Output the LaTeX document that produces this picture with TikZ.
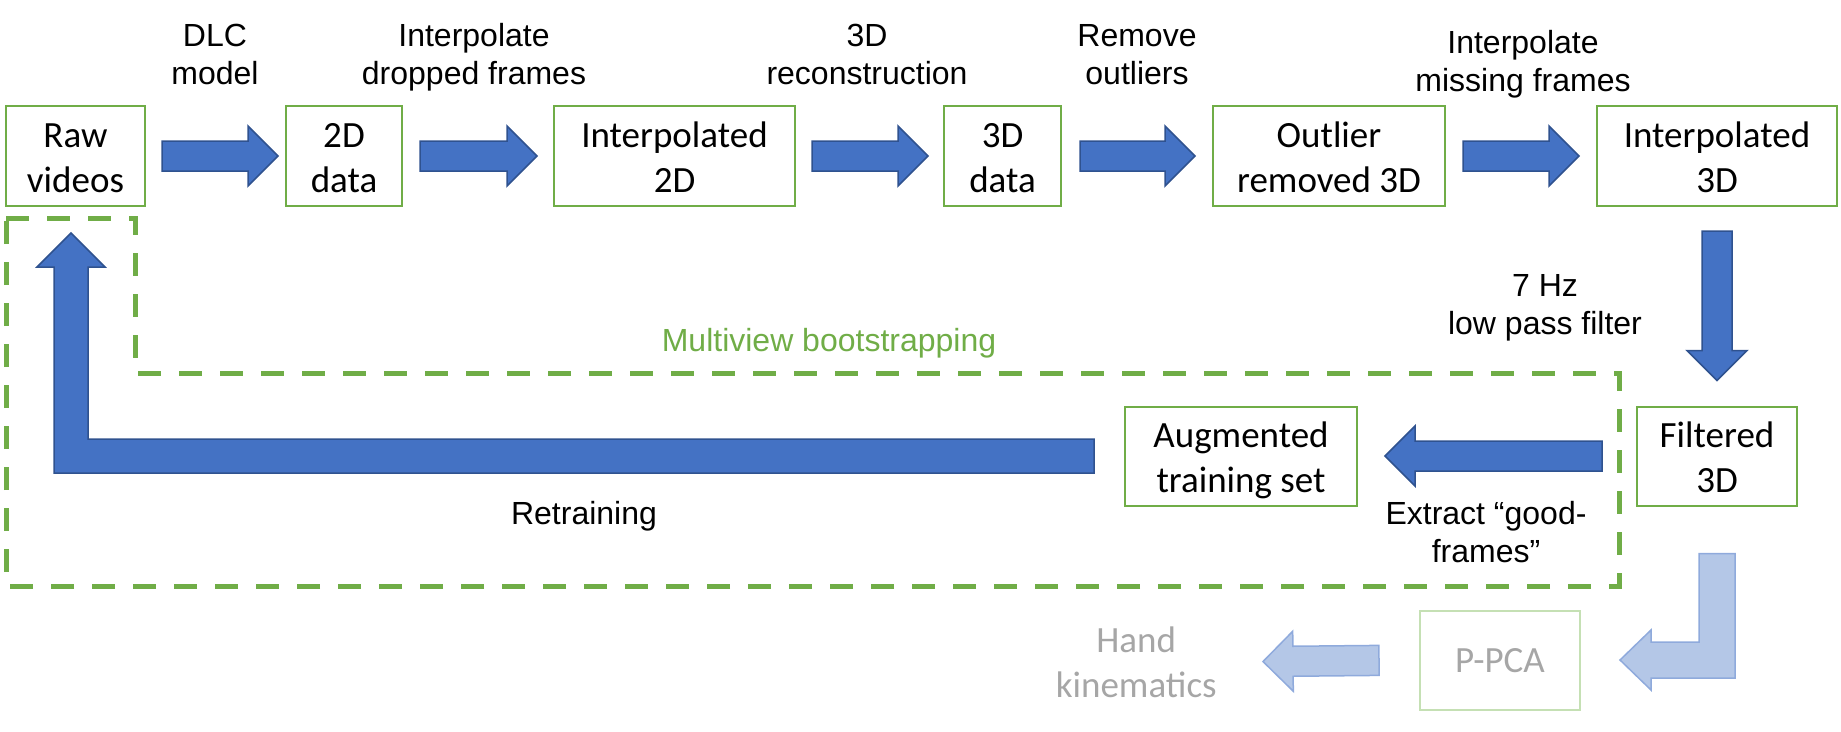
\documentclass[tikz,border=0pt]{standalone}
\usepackage{fontspec}
\setmainfont{Carlito}
\newfontfamily\arialfont{Liberation Sans}
\usetikzlibrary{calc}

\tikzset{every picture/.style={line width=0.75pt},
	stagebox/.style={draw={rgb, 255:red, 112; green, 173; blue, 71 }, line width=2pt, align=center, inner sep=0pt, text height=72pt, text depth=0pt, font=\fontsize{37}{45}\selectfont},
	fadedbox/.style={draw={rgb, 255:red, 197; green, 224; blue, 180 }, line width=2pt, align=center, inner sep=0pt, text depth=0pt, text={rgb, 255:red, 166; green, 166; blue, 166 }, font=\fontsize{37}{45}\selectfont},
	steplabel/.style={align=center, inner sep=0pt, text depth=0pt, anchor=south, font=\arialfont\fontsize{32}{38}\selectfont},
	bluearrow/.style={fill={rgb, 255:red, 68; green, 114; blue, 196 }, draw={rgb, 255:red, 47; green, 82; blue, 143 }, line width=1.5pt},
	palearrow/.style={fill={rgb, 255:red, 180; green, 199; blue, 231 }, draw={rgb, 255:red, 143; green, 170; blue, 220 }, line width=1.5pt},
	bootbox/.style={draw={rgb, 255:red, 112; green, 173; blue, 71 }, line width=5pt, dash pattern=on 23pt off 18pt}
}

% block arrow between two anchors: [style]{from}{to}{gap at from}{gap at to}
\newcommand{\blockarrow}[5][bluearrow]{%
	\coordinate (ba) at ($(#2)!#4!(#3)$);
	\coordinate (bb) at ($(#3)!#5!(#2)$);
	\coordinate (bc) at ($(bb)!30pt!(ba)$);
	\draw[#1] ($(ba)!15pt!90:(bb)$) -- ($(bc)!15pt!90:(bb)$) -- ($(bc)!30pt!90:(bb)$) -- (bb) -- ($(bc)!30pt!-90:(bb)$) -- ($(bc)!15pt!-90:(bb)$) -- ($(ba)!15pt!-90:(bb)$) -- cycle ;
}

\begin{document}
\begin{tikzpicture}[x=1pt,y=1pt,yscale=-1,xscale=1]
	\useasboundingbox (0,0) rectangle (1841,731);

	%Shape: Rectangle [top row]
	\node[stagebox, minimum width=139, minimum height=100] (raw) at (75.5,156) {Raw\\videos};
	\node[stagebox, minimum width=116, minimum height=100] (d2) at (344,156) {2D\\data};
	\node[stagebox, minimum width=241, minimum height=100] (i2) at (674.5,156) {Interpolated\\2D};
	\node[stagebox, minimum width=117, minimum height=100] (d3) at (1002.5,156) {3D\\data};
	\node[stagebox, minimum width=232, minimum height=100] (o3) at (1329,156) {Outlier\\removed 3D};
	\node[stagebox, minimum width=240, minimum height=100] (i3) at (1717,156) {Interpolated\\3D};
	%Shape: Rectangle [bottom row]
	\node[stagebox, minimum width=160, minimum height=99] (filt) at (1717,456) {Filtered\\3D};
	\node[stagebox, minimum width=232, minimum height=99] (aug) at (1241,456) {Augmented\\training set};
	\node[fadedbox, minimum width=160, minimum height=99] (ppca) at (1500,660) {P-PCA};

	%Shape: Dashed frame
	\draw[bootbox] (6,218) -- (135,218) -- (135,373) -- (1619,373) -- (1619,586) -- (6,586) -- cycle ;

	%Block arrows
	\blockarrow{raw.east}{d2.west}{16pt}{7pt}
	\blockarrow{d2.east}{i2.west}{17pt}{16pt}
	\blockarrow{i2.east}{d3.west}{16pt}{15pt}
	\blockarrow{d3.east}{o3.west}{18pt}{17pt}
	\blockarrow{o3.east}{i3.west}{17pt}{17pt}
	\blockarrow{i3.south}{filt.north}{24pt}{25pt}
	\blockarrow{filt.west}{aug.east}{34pt}{27pt}

	%Retraining arrow
	\coordinate (rtail) at ([xshift=-30pt]aug.west);
	\coordinate (rtip) at ([xshift=-4.5pt,yshift=26pt]raw.south);
	\draw[bluearrow] ($(rtail)+(0,-17)$) -| ($(rtip)+(17,34)$) -- ++(17,0) -- (rtip) -- ++(-34,34) -- ++(17,0) |- ($(rtail)+(0,17)$) -- cycle ;

	%Faded arrows
	\coordinate (ltop) at ([yshift=47pt]filt.south);
	\coordinate (ltip) at ([xshift=39pt]ppca.east);
	\draw[palearrow] ($(ltop)+(-18,0)$) |- ($(ltip)+(31,-18)$) -- ++(0,-12) -- (ltip) -- ++(31,30) -- ++(0,-12) -| ($(ltop)+(18,0)$) -- cycle ;

	% Text Node
	\node[inner sep=0pt, text depth=0pt, align=center, anchor=east, text={rgb, 255:red, 166; green, 166; blue, 166 }, font=\fontsize{37}{45}\selectfont] (hand) at (1217,662) {Hand\\kinematics};
	\blockarrow[palearrow]{ppca.west}{hand.east}{40pt}{46pt}

	% Text Node
	\node[steplabel] (dlc) at (215,85) {DLC\\model};
	% Text Node
	\node[steplabel] (idf) at (474,85) {Interpolate\\dropped frames};
	% Text Node
	\node[steplabel] (rec) at (867,85) {3D\\reconstruction};
	% Text Node
	\node[steplabel] (rem) at (1137,85) {Remove\\outliers};
	% Text Node
	\node[steplabel] (imf) at (1523,92) {Interpolate\\missing frames};
	% Text Node
	\node[steplabel] (lpf) at (1545,335) {7 Hz\\low pass filter};
	% Text Node
	\node[steplabel] (xgf) at (1486,563) {Extract “good-\\frames”};
	% Text Node
	\node[steplabel] (ret) at (584,525) {Retraining};
	% Text Node
	\node[steplabel, text={rgb, 255:red, 112; green, 173; blue, 71 }] (mvb) at (829,352) {Multiview bootstrapping};

\end{tikzpicture}
\end{document}
